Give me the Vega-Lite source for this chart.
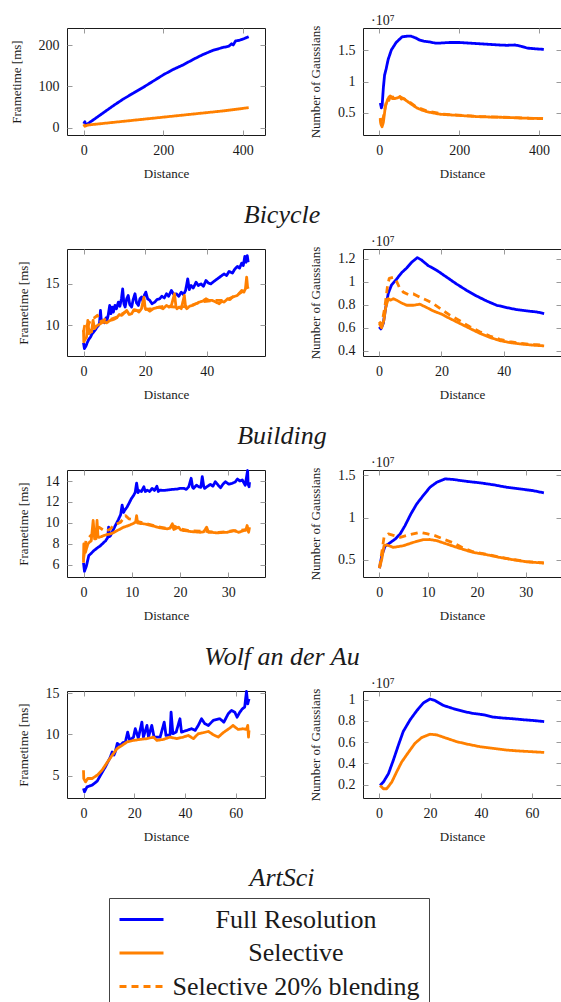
{
"$schema": "https://vega.github.io/schema/vega-lite/v6.json",
"background": "white",
"padding": {"left": 9, "top": 13, "right": 0, "bottom": 0},
"columns": 2,
"spacing": {"row": 114, "column": 98},
"bounds": "flush",
"datasets": {
"p1l": [
{"s":"F","x":0,"y":10},{"s":"F","x":3,"y":15},{"s":"F","x":5,"y":6},{"s":"F","x":10,"y":10},{"s":"F","x":25,"y":20},{"s":"F","x":50,"y":37},{"s":"F","x":75,"y":54},{"s":"F","x":100,"y":70},{"s":"F","x":125,"y":84},{"s":"F","x":150,"y":98},{"s":"F","x":175,"y":113},{"s":"F","x":200,"y":128},{"s":"F","x":225,"y":141},{"s":"F","x":250,"y":152},{"s":"F","x":275,"y":165},{"s":"F","x":300,"y":177},{"s":"F","x":325,"y":187},{"s":"F","x":350,"y":194},{"s":"F","x":365,"y":197},{"s":"F","x":372,"y":203},{"s":"F","x":376,"y":200},{"s":"F","x":382,"y":210},{"s":"F","x":390,"y":211},{"s":"F","x":400,"y":214},{"s":"F","x":415,"y":220},
{"s":"S","x":0,"y":9},{"s":"S","x":3,"y":4},{"s":"S","x":10,"y":7},{"s":"S","x":50,"y":11},{"s":"S","x":100,"y":16},{"s":"S","x":150,"y":21},{"s":"S","x":200,"y":26},{"s":"S","x":250,"y":31},{"s":"S","x":300,"y":36},{"s":"S","x":350,"y":41},{"s":"S","x":400,"y":47},{"s":"S","x":415,"y":49}
],
"p1r": [
{"s":"F","x":2.5,"y":0.66},{"s":"F","x":5,"y":0.58},{"s":"F","x":7,"y":0.62},{"s":"F","x":10,"y":0.9},{"s":"F","x":13,"y":1.1},{"s":"F","x":17,"y":1.2},{"s":"F","x":22,"y":1.35},{"s":"F","x":30,"y":1.5},{"s":"F","x":42,"y":1.62},{"s":"F","x":57,"y":1.71},{"s":"F","x":70,"y":1.72},{"s":"F","x":79,"y":1.72},{"s":"F","x":92,"y":1.69},{"s":"F","x":100,"y":1.66},{"s":"F","x":111,"y":1.64},{"s":"F","x":125,"y":1.63},{"s":"F","x":140,"y":1.61},{"s":"F","x":150,"y":1.61},{"s":"F","x":175,"y":1.62},{"s":"F","x":200,"y":1.62},{"s":"F","x":225,"y":1.61},{"s":"F","x":251,"y":1.6},{"s":"F","x":275,"y":1.59},{"s":"F","x":301,"y":1.58},{"s":"F","x":320,"y":1.575},{"s":"F","x":340,"y":1.58},{"s":"F","x":355,"y":1.56},{"s":"F","x":371,"y":1.53},{"s":"F","x":390,"y":1.52},{"s":"F","x":412,"y":1.51},
{"s":"S","x":2,"y":0.4},{"s":"S","x":4,"y":0.32},{"s":"S","x":6.7,"y":0.28},{"s":"S","x":10,"y":0.35},{"s":"S","x":13,"y":0.5},{"s":"S","x":15,"y":0.6},{"s":"S","x":18,"y":0.66},{"s":"S","x":21,"y":0.72},{"s":"S","x":24,"y":0.7},{"s":"S","x":27.5,"y":0.77},{"s":"S","x":32,"y":0.73},{"s":"S","x":40,"y":0.73},{"s":"S","x":46,"y":0.74},{"s":"S","x":52,"y":0.76},{"s":"S","x":55,"y":0.72},{"s":"S","x":60,"y":0.73},{"s":"S","x":69,"y":0.69},{"s":"S","x":80,"y":0.64},{"s":"S","x":94,"y":0.58},{"s":"S","x":105,"y":0.55},{"s":"S","x":119,"y":0.52},{"s":"S","x":135,"y":0.5},{"s":"S","x":152,"y":0.48},{"s":"S","x":175,"y":0.47},{"s":"S","x":202,"y":0.46},{"s":"S","x":225,"y":0.45},{"s":"S","x":252,"y":0.44},{"s":"S","x":280,"y":0.435},{"s":"S","x":319,"y":0.43},{"s":"S","x":350,"y":0.42},{"s":"S","x":380,"y":0.415},{"s":"S","x":410,"y":0.41},
{"s":"B","x":2,"y":0.42},{"s":"B","x":6,"y":0.3},{"s":"B","x":12,"y":0.5},{"s":"B","x":18,"y":0.7},{"s":"B","x":25,"y":0.76},{"s":"B","x":35,"y":0.75},{"s":"B","x":50,"y":0.76},{"s":"B","x":70,"y":0.7},{"s":"B","x":94,"y":0.59},{"s":"B","x":120,"y":0.53},{"s":"B","x":160,"y":0.48},{"s":"B","x":250,"y":0.445},{"s":"B","x":410,"y":0.41}
],
"p2l": [
{"s":"F","x":0,"y":7.9},{"s":"F","x":0.3,"y":7.2},{"s":"F","x":0.8,"y":7.5},{"s":"F","x":1.2,"y":7.9},{"s":"F","x":1.7,"y":8.3},{"s":"F","x":2.3,"y":8.6},{"s":"F","x":2.8,"y":9.0},{"s":"F","x":3.3,"y":9.2},{"s":"F","x":3.9,"y":9.5},{"s":"F","x":4.4,"y":9.8},{"s":"F","x":4.9,"y":10.0},{"s":"F","x":5.2,"y":10.3},{"s":"F","x":5.5,"y":11.8},{"s":"F","x":5.8,"y":10.4},{"s":"F","x":6.3,"y":10.6},{"s":"F","x":6.8,"y":10.3},{"s":"F","x":7.3,"y":10.9},{"s":"F","x":7.6,"y":10.6},{"s":"F","x":8.0,"y":11.2},{"s":"F","x":8.5,"y":12.4},{"s":"F","x":8.9,"y":11.4},{"s":"F","x":9.3,"y":12.2},{"s":"F","x":9.7,"y":11.6},{"s":"F","x":10.2,"y":12.4},{"s":"F","x":10.7,"y":12.0},{"s":"F","x":11.3,"y":12.8},{"s":"F","x":11.8,"y":12.3},{"s":"F","x":12.3,"y":13.2},{"s":"F","x":12.7,"y":14.4},{"s":"F","x":13.1,"y":12.6},{"s":"F","x":13.5,"y":12.2},{"s":"F","x":14.0,"y":13.2},{"s":"F","x":14.5,"y":13.6},{"s":"F","x":15.0,"y":12.5},{"s":"F","x":15.6,"y":12.2},{"s":"F","x":16.1,"y":13.1},{"s":"F","x":16.7,"y":13.8},{"s":"F","x":17.2,"y":12.7},{"s":"F","x":17.8,"y":12.4},{"s":"F","x":18.3,"y":13.2},{"s":"F","x":18.8,"y":13.4},{"s":"F","x":19.3,"y":12.9},{"s":"F","x":19.7,"y":13.6},{"s":"F","x":20.2,"y":14.0},{"s":"F","x":20.8,"y":13.2},{"s":"F","x":21.5,"y":13.0},{"s":"F","x":22.2,"y":12.6},{"s":"F","x":23.1,"y":12.8},{"s":"F","x":23.8,"y":13.1},{"s":"F","x":24.7,"y":13.2},{"s":"F","x":25.4,"y":13.5},{"s":"F","x":26.2,"y":13.3},{"s":"F","x":26.9,"y":13.8},{"s":"F","x":27.6,"y":13.5},{"s":"F","x":28.5,"y":14.2},{"s":"F","x":29.3,"y":13.7},{"s":"F","x":30.1,"y":13.8},{"s":"F","x":30.9,"y":13.5},{"s":"F","x":31.7,"y":14.0},{"s":"F","x":32.4,"y":13.7},{"s":"F","x":33.1,"y":14.2},{"s":"F","x":33.8,"y":15.6},{"s":"F","x":34.3,"y":14.3},{"s":"F","x":34.9,"y":14.8},{"s":"F","x":35.6,"y":14.5},{"s":"F","x":36.5,"y":15.2},{"s":"F","x":37.2,"y":14.8},{"s":"F","x":38.1,"y":15.0},{"s":"F","x":38.9,"y":14.7},{"s":"F","x":39.7,"y":15.4},{"s":"F","x":40.5,"y":15.1},{"s":"F","x":41.3,"y":15.0},{"s":"F","x":42.3,"y":15.3},{"s":"F","x":43.4,"y":15.6},{"s":"F","x":44.5,"y":15.9},{"s":"F","x":45.6,"y":16.2},{"s":"F","x":46.4,"y":16.0},{"s":"F","x":47.2,"y":16.5},{"s":"F","x":48.3,"y":16.3},{"s":"F","x":49.1,"y":16.8},{"s":"F","x":49.9,"y":17.1},{"s":"F","x":50.6,"y":16.9},{"s":"F","x":51.3,"y":17.5},{"s":"F","x":51.8,"y":17.2},{"s":"F","x":52.3,"y":18.3},{"s":"F","x":52.7,"y":17.6},{"s":"F","x":53.1,"y":18.4},{"s":"F","x":53.4,"y":17.6},
{"s":"S","x":0,"y":9.4},{"s":"S","x":0.1,"y":8.0},{"s":"S","x":0.5,"y":8.3},{"s":"S","x":1.0,"y":8.6},{"s":"S","x":1.4,"y":10.6},{"s":"S","x":1.8,"y":9.0},{"s":"S","x":2.2,"y":9.4},{"s":"S","x":2.6,"y":9.2},{"s":"S","x":3.1,"y":10.6},{"s":"S","x":3.6,"y":9.6},{"s":"S","x":4.2,"y":9.9},{"s":"S","x":4.6,"y":10.0},{"s":"S","x":5.5,"y":10.2},{"s":"S","x":6.5,"y":10.4},{"s":"S","x":7.5,"y":10.3},{"s":"S","x":8.7,"y":10.6},{"s":"S","x":9.7,"y":10.7},{"s":"S","x":10.8,"y":10.9},{"s":"S","x":11.6,"y":11.3},{"s":"S","x":12.4,"y":11.2},{"s":"S","x":13.2,"y":11.5},{"s":"S","x":14.0,"y":11.8},{"s":"S","x":14.8,"y":11.3},{"s":"S","x":15.6,"y":11.4},{"s":"S","x":16.4,"y":11.9},{"s":"S","x":17.2,"y":11.8},{"s":"S","x":18.0,"y":11.6},{"s":"S","x":18.8,"y":12.0},{"s":"S","x":19.6,"y":13.4},{"s":"S","x":20.0,"y":12.0},{"s":"S","x":20.4,"y":12.0},{"s":"S","x":21.5,"y":11.7},{"s":"S","x":22.6,"y":12.0},{"s":"S","x":23.6,"y":12.1},{"s":"S","x":24.7,"y":12.2},{"s":"S","x":25.8,"y":12.0},{"s":"S","x":26.9,"y":12.4},{"s":"S","x":27.7,"y":12.2},{"s":"S","x":28.5,"y":12.4},{"s":"S","x":29.5,"y":13.8},{"s":"S","x":30.0,"y":12.2},{"s":"S","x":30.3,"y":12.0},{"s":"S","x":31.0,"y":12.2},{"s":"S","x":31.7,"y":12.0},{"s":"S","x":32.7,"y":13.6},{"s":"S","x":33.1,"y":12.2},{"s":"S","x":33.5,"y":12.0},{"s":"S","x":34.4,"y":12.3},{"s":"S","x":35.4,"y":12.4},{"s":"S","x":36.5,"y":12.6},{"s":"S","x":37.6,"y":12.8},{"s":"S","x":38.6,"y":12.9},{"s":"S","x":39.7,"y":13.2},{"s":"S","x":40.7,"y":13.0},{"s":"S","x":41.8,"y":13.0},{"s":"S","x":42.9,"y":12.8},{"s":"S","x":44.0,"y":12.6},{"s":"S","x":44.8,"y":12.9},{"s":"S","x":45.6,"y":12.8},{"s":"S","x":46.7,"y":13.2},{"s":"S","x":47.5,"y":13.1},{"s":"S","x":48.3,"y":13.4},{"s":"S","x":49.1,"y":13.5},{"s":"S","x":49.9,"y":13.6},{"s":"S","x":50.6,"y":13.9},{"s":"S","x":51.3,"y":14.2},{"s":"S","x":52.0,"y":14.0},{"s":"S","x":52.5,"y":14.4},{"s":"S","x":52.9,"y":15.8},{"s":"S","x":53.2,"y":14.6},{"s":"S","x":53.4,"y":14.4},
{"s":"B","x":0,"y":9.2},{"s":"B","x":0.6,"y":10.4},{"s":"B","x":1.5,"y":10.0},{"s":"B","x":2.5,"y":10.8},{"s":"B","x":3.5,"y":10.9},{"s":"B","x":4.5,"y":11.2},{"s":"B","x":5.2,"y":10.4},{"s":"B","x":6.4,"y":10.6},{"s":"B","x":7.5,"y":10.8},{"s":"B","x":8.7,"y":10.7},{"s":"B","x":10.8,"y":11.0},{"s":"B","x":14,"y":11.7},{"s":"B","x":18,"y":11.8},{"s":"B","x":22,"y":12.0},{"s":"B","x":26,"y":12.3},{"s":"B","x":30,"y":12.2},{"s":"B","x":34,"y":12.3},{"s":"B","x":38,"y":12.8},{"s":"B","x":42,"y":13.0},{"s":"B","x":46,"y":13.0},{"s":"B","x":50,"y":13.7},{"s":"B","x":53.4,"y":14.5}
],
"p2r": [
{"s":"F","x":0.1,"y":0.609},{"s":"F","x":0.64,"y":0.59},{"s":"F","x":1.4,"y":0.64},{"s":"F","x":2.2,"y":0.78},{"s":"F","x":3.0,"y":0.9},{"s":"F","x":4.0,"y":0.97},{"s":"F","x":5.7,"y":1.025},{"s":"F","x":7.3,"y":1.08},{"s":"F","x":8.9,"y":1.12},{"s":"F","x":10.5,"y":1.17},{"s":"F","x":12.3,"y":1.21},{"s":"F","x":13.6,"y":1.19},{"s":"F","x":15.8,"y":1.14},{"s":"F","x":18.5,"y":1.1},{"s":"F","x":21.7,"y":1.04},{"s":"F","x":24.9,"y":0.98},{"s":"F","x":28.1,"y":0.925},{"s":"F","x":31.3,"y":0.876},{"s":"F","x":34.5,"y":0.833},{"s":"F","x":37.7,"y":0.796},{"s":"F","x":40.9,"y":0.776},{"s":"F","x":44.1,"y":0.758},{"s":"F","x":47.3,"y":0.747},{"s":"F","x":50.5,"y":0.738},{"s":"F","x":52.9,"y":0.724},
{"s":"S","x":0.1,"y":0.64},{"s":"S","x":0.86,"y":0.6},{"s":"S","x":1.6,"y":0.667},{"s":"S","x":2.2,"y":0.78},{"s":"S","x":3.0,"y":0.853},{"s":"S","x":3.7,"y":0.84},{"s":"S","x":4.6,"y":0.853},{"s":"S","x":5.7,"y":0.84},{"s":"S","x":7.3,"y":0.815},{"s":"S","x":8.9,"y":0.796},{"s":"S","x":11.0,"y":0.796},{"s":"S","x":13.1,"y":0.805},{"s":"S","x":15.3,"y":0.776},{"s":"S","x":17.4,"y":0.747},{"s":"S","x":20.1,"y":0.718},{"s":"S","x":22.7,"y":0.681},{"s":"S","x":25.9,"y":0.638},{"s":"S","x":29.1,"y":0.595},{"s":"S","x":32.3,"y":0.552},{"s":"S","x":35.5,"y":0.517},{"s":"S","x":38.7,"y":0.489},{"s":"S","x":41.9,"y":0.472},{"s":"S","x":45.1,"y":0.46},{"s":"S","x":49.4,"y":0.449},{"s":"S","x":52.9,"y":0.443},
{"s":"B","x":0.1,"y":0.654},{"s":"B","x":0.86,"y":0.626},{"s":"B","x":1.9,"y":0.78},{"s":"B","x":2.7,"y":0.953},{"s":"B","x":3.3,"y":1.03},{"s":"B","x":4.6,"y":1.04},{"s":"B","x":5.4,"y":1.02},{"s":"B","x":6.5,"y":0.953},{"s":"B","x":7.8,"y":0.91},{"s":"B","x":9.4,"y":0.89},{"s":"B","x":11.0,"y":0.895},{"s":"B","x":13.1,"y":0.867},{"s":"B","x":15.3,"y":0.84},{"s":"B","x":17.4,"y":0.81},{"s":"B","x":20.1,"y":0.758},{"s":"B","x":22.7,"y":0.71},{"s":"B","x":25.9,"y":0.661},{"s":"B","x":29.1,"y":0.609},{"s":"B","x":32.3,"y":0.566},{"s":"B","x":35.5,"y":0.529},{"s":"B","x":38.7,"y":0.5},{"s":"B","x":41.9,"y":0.48},{"s":"B","x":45.1,"y":0.466},{"s":"B","x":49.4,"y":0.455},{"s":"B","x":52.9,"y":0.449}
],
"p3l": [
{"s":"F","x":0,"y":6.2},{"s":"F","x":0.2,"y":5.4},{"s":"F","x":0.6,"y":5.9},{"s":"F","x":1.1,"y":6.9},{"s":"F","x":1.6,"y":7.1},{"s":"F","x":2.1,"y":7.35},{"s":"F","x":2.8,"y":7.6},{"s":"F","x":3.5,"y":7.83},{"s":"F","x":4.1,"y":8.1},{"s":"F","x":4.6,"y":8.31},{"s":"F","x":5.0,"y":8.6},{"s":"F","x":5.2,"y":9.6},{"s":"F","x":5.4,"y":8.7},{"s":"F","x":5.6,"y":8.8},{"s":"F","x":6.1,"y":9.3},{"s":"F","x":6.6,"y":9.76},{"s":"F","x":7.2,"y":10.3},{"s":"F","x":7.7,"y":10.8},{"s":"F","x":8.0,"y":11.7},{"s":"F","x":8.3,"y":11.0},{"s":"F","x":8.5,"y":11.2},{"s":"F","x":9.0,"y":11.5},{"s":"F","x":9.4,"y":11.85},{"s":"F","x":9.9,"y":12.3},{"s":"F","x":10.4,"y":12.65},{"s":"F","x":10.7,"y":12.9},{"s":"F","x":11.0,"y":13.8},{"s":"F","x":11.3,"y":12.9},{"s":"F","x":11.5,"y":13.1},{"s":"F","x":12.0,"y":13.0},{"s":"F","x":12.5,"y":13.45},{"s":"F","x":12.8,"y":13.0},{"s":"F","x":13.2,"y":13.13},{"s":"F","x":13.7,"y":13.0},{"s":"F","x":14.2,"y":13.3},{"s":"F","x":14.7,"y":13.1},{"s":"F","x":15.2,"y":13.5},{"s":"F","x":15.5,"y":13.0},{"s":"F","x":15.8,"y":13.13},{"s":"F","x":16.5,"y":13.1},{"s":"F","x":17.3,"y":13.13},{"s":"F","x":18.3,"y":13.2},{"s":"F","x":19.4,"y":13.23},{"s":"F","x":20.1,"y":13.3},{"s":"F","x":20.8,"y":13.3},{"s":"F","x":21.3,"y":13.2},{"s":"F","x":21.8,"y":13.45},{"s":"F","x":22.3,"y":14.26},{"s":"F","x":22.6,"y":13.4},{"s":"F","x":22.8,"y":13.3},{"s":"F","x":23.4,"y":13.6},{"s":"F","x":23.9,"y":13.45},{"s":"F","x":24.3,"y":13.4},{"s":"F","x":24.6,"y":14.42},{"s":"F","x":24.9,"y":13.5},{"s":"F","x":25.1,"y":13.3},{"s":"F","x":25.7,"y":13.5},{"s":"F","x":26.3,"y":13.68},{"s":"F","x":26.8,"y":13.5},{"s":"F","x":27.3,"y":13.93},{"s":"F","x":27.9,"y":13.6},{"s":"F","x":28.4,"y":13.36},{"s":"F","x":28.9,"y":13.7},{"s":"F","x":29.4,"y":13.93},{"s":"F","x":30.1,"y":13.7},{"s":"F","x":30.8,"y":13.78},{"s":"F","x":31.4,"y":13.9},{"s":"F","x":31.9,"y":14.19},{"s":"F","x":32.4,"y":14.0},{"s":"F","x":32.9,"y":14.1},{"s":"F","x":33.5,"y":13.6},{"s":"F","x":34.0,"y":15.0},{"s":"F","x":34.1,"y":13.7},{"s":"F","x":34.3,"y":13.45},{"s":"F","x":34.4,"y":13.9},
{"s":"S","x":0,"y":6.2},{"s":"S","x":0.06,"y":8.0},{"s":"S","x":0.4,"y":7.2},{"s":"S","x":0.9,"y":8.0},{"s":"S","x":1.3,"y":8.2},{"s":"S","x":1.6,"y":8.3},{"s":"S","x":2.0,"y":10.24},{"s":"S","x":2.3,"y":8.48},{"s":"S","x":2.6,"y":8.5},{"s":"S","x":2.8,"y":10.24},{"s":"S","x":3.0,"y":8.7},{"s":"S","x":3.2,"y":8.63},{"s":"S","x":3.7,"y":8.7},{"s":"S","x":4.2,"y":8.8},{"s":"S","x":4.9,"y":8.9},{"s":"S","x":5.6,"y":8.96},{"s":"S","x":6.3,"y":9.1},{"s":"S","x":7.0,"y":9.28},{"s":"S","x":7.7,"y":9.45},{"s":"S","x":8.3,"y":9.6},{"s":"S","x":9.0,"y":9.7},{"s":"S","x":9.7,"y":9.83},{"s":"S","x":10.3,"y":9.95},{"s":"S","x":10.8,"y":10.08},{"s":"S","x":11.0,"y":10.7},{"s":"S","x":11.2,"y":10.0},{"s":"S","x":11.8,"y":9.95},{"s":"S","x":12.5,"y":9.92},{"s":"S","x":13.2,"y":9.85},{"s":"S","x":13.9,"y":9.76},{"s":"S","x":14.6,"y":9.7},{"s":"S","x":15.3,"y":9.6},{"s":"S","x":16.3,"y":9.5},{"s":"S","x":17.3,"y":9.44},{"s":"S","x":17.9,"y":9.5},{"s":"S","x":18.4,"y":9.92},{"s":"S","x":18.7,"y":9.38},{"s":"S","x":19.2,"y":9.5},{"s":"S","x":19.7,"y":9.6},{"s":"S","x":20.1,"y":9.35},{"s":"S","x":20.6,"y":9.28},{"s":"S","x":21.4,"y":9.25},{"s":"S","x":22.2,"y":9.18},{"s":"S","x":23.2,"y":9.15},{"s":"S","x":24.2,"y":9.11},{"s":"S","x":24.9,"y":9.15},{"s":"S","x":25.5,"y":9.6},{"s":"S","x":25.9,"y":9.11},{"s":"S","x":26.8,"y":9.1},{"s":"S","x":27.7,"y":9.05},{"s":"S","x":28.8,"y":9.1},{"s":"S","x":29.8,"y":9.11},{"s":"S","x":30.5,"y":9.2},{"s":"S","x":31.1,"y":9.28},{"s":"S","x":31.6,"y":9.2},{"s":"S","x":32.2,"y":9.11},{"s":"S","x":32.7,"y":9.2},{"s":"S","x":33.2,"y":9.28},{"s":"S","x":33.6,"y":9.3},{"s":"S","x":33.9,"y":9.76},{"s":"S","x":34.2,"y":9.11},{"s":"S","x":34.4,"y":9.6},
{"s":"B","x":0,"y":6.5},{"s":"B","x":0.5,"y":8.3},{"s":"B","x":1.5,"y":8.8},{"s":"B","x":2.4,"y":9.0},{"s":"B","x":3.2,"y":9.6},{"s":"B","x":4.5,"y":9.2},{"s":"B","x":5.5,"y":9.4},{"s":"B","x":6.2,"y":9.76},{"s":"B","x":7.7,"y":10.08},{"s":"B","x":8.7,"y":10.7},{"s":"B","x":9.4,"y":10.4},{"s":"B","x":10.5,"y":10.3},{"s":"B","x":11.5,"y":10.1},{"s":"B","x":13,"y":9.95},{"s":"B","x":15,"y":9.7},{"s":"B","x":17,"y":9.5},{"s":"B","x":18.8,"y":9.7},{"s":"B","x":20,"y":9.45},{"s":"B","x":22,"y":9.25},{"s":"B","x":25,"y":9.2},{"s":"B","x":28,"y":9.1},{"s":"B","x":31,"y":9.25},{"s":"B","x":34.4,"y":9.4}
],
"p3r": [
{"s":"F","x":0.07,"y":0.4},{"s":"F","x":0.55,"y":0.55},{"s":"F","x":1.2,"y":0.66},{"s":"F","x":2.2,"y":0.7},{"s":"F","x":3.3,"y":0.746},{"s":"F","x":4.3,"y":0.806},{"s":"F","x":5.3,"y":0.905},{"s":"F","x":6.5,"y":1.044},{"s":"F","x":7.7,"y":1.163},{"s":"F","x":9.0,"y":1.26},{"s":"F","x":10.4,"y":1.36},{"s":"F","x":11.8,"y":1.42},{"s":"F","x":13.5,"y":1.46},{"s":"F","x":15.2,"y":1.452},{"s":"F","x":17.9,"y":1.43},{"s":"F","x":20.6,"y":1.413},{"s":"F","x":23.3,"y":1.39},{"s":"F","x":26.1,"y":1.36},{"s":"F","x":28.8,"y":1.34},{"s":"F","x":31.5,"y":1.32},{"s":"F","x":33.7,"y":1.294},
{"s":"S","x":0.07,"y":0.4},{"s":"S","x":0.55,"y":0.51},{"s":"S","x":1.0,"y":0.667},{"s":"S","x":1.6,"y":0.675},{"s":"S","x":2.9,"y":0.646},{"s":"S","x":5.0,"y":0.667},{"s":"S","x":7.0,"y":0.706},{"s":"S","x":9.0,"y":0.738},{"s":"S","x":10.4,"y":0.74},{"s":"S","x":11.8,"y":0.726},{"s":"S","x":13.8,"y":0.687},{"s":"S","x":16.5,"y":0.635},{"s":"S","x":19.2,"y":0.587},{"s":"S","x":22.0,"y":0.56},{"s":"S","x":24.7,"y":0.527},{"s":"S","x":27.4,"y":0.5},{"s":"S","x":30.1,"y":0.476},{"s":"S","x":33.7,"y":0.46},
{"s":"B","x":0.07,"y":0.4},{"s":"B","x":1.0,"y":0.766},{"s":"B","x":1.9,"y":0.806},{"s":"B","x":2.9,"y":0.79},{"s":"B","x":4.3,"y":0.766},{"s":"B","x":6.3,"y":0.798},{"s":"B","x":8.4,"y":0.825},{"s":"B","x":9.7,"y":0.81},{"s":"B","x":11.4,"y":0.786},{"s":"B","x":13.1,"y":0.746},{"s":"B","x":15.2,"y":0.7},{"s":"B","x":17.0,"y":0.645},{"s":"B","x":19.2,"y":0.595},{"s":"B","x":22.0,"y":0.565},{"s":"B","x":24.7,"y":0.53},{"s":"B","x":27.4,"y":0.503},{"s":"B","x":30.1,"y":0.478},{"s":"B","x":33.7,"y":0.462}
],
"p4l": [
{"s":"F","x":0,"y":3.46},{"s":"F","x":0.4,"y":3.05},{"s":"F","x":1.4,"y":3.65},{"s":"F","x":3.4,"y":3.86},{"s":"F","x":5.4,"y":4.34},{"s":"F","x":6.7,"y":5.06},{"s":"F","x":8.6,"y":6.06},{"s":"F","x":10.6,"y":7.27},{"s":"F","x":11.3,"y":7.87},{"s":"F","x":12.0,"y":7.5},{"s":"F","x":12.5,"y":7.87},{"s":"F","x":13.3,"y":8.9},{"s":"F","x":14.5,"y":8.67},{"s":"F","x":15.5,"y":9.0},{"s":"F","x":16.5,"y":9.07},{"s":"F","x":17.4,"y":10.28},{"s":"F","x":18.2,"y":9.27},{"s":"F","x":19.7,"y":9.67},{"s":"F","x":20.4,"y":10.69},{"s":"F","x":21.6,"y":9.55},{"s":"F","x":23.0,"y":11.48},{"s":"F","x":23.6,"y":9.67},{"s":"F","x":25.0,"y":11.08},{"s":"F","x":25.6,"y":9.67},{"s":"F","x":26.9,"y":11.08},{"s":"F","x":27.8,"y":9.67},{"s":"F","x":30.2,"y":9.67},{"s":"F","x":31.8,"y":11.48},{"s":"F","x":32.5,"y":9.87},{"s":"F","x":34.1,"y":9.96},{"s":"F","x":34.5,"y":12.69},{"s":"F","x":35.2,"y":10.08},{"s":"F","x":36.5,"y":10.28},{"s":"F","x":38.0,"y":11.89},{"s":"F","x":38.6,"y":10.28},{"s":"F","x":40.7,"y":10.48},{"s":"F","x":42.6,"y":10.69},{"s":"F","x":44.0,"y":10.48},{"s":"F","x":45.2,"y":11.08},{"s":"F","x":46.5,"y":11.89},{"s":"F","x":47.8,"y":11.29},{"s":"F","x":49.2,"y":11.08},{"s":"F","x":51.1,"y":11.69},{"s":"F","x":53.7,"y":11.89},{"s":"F","x":55.3,"y":11.48},{"s":"F","x":57.0,"y":12.49},{"s":"F","x":58.3,"y":12.9},{"s":"F","x":59.6,"y":12.69},{"s":"F","x":60.5,"y":12.08},{"s":"F","x":61.6,"y":12.69},{"s":"F","x":62.6,"y":13.1},{"s":"F","x":63.5,"y":13.3},{"s":"F","x":64.2,"y":15.2},{"s":"F","x":64.7,"y":13.7},{"s":"F","x":65.2,"y":14.3},
{"s":"S","x":0,"y":5.66},{"s":"S","x":0.1,"y":4.66},{"s":"S","x":0.8,"y":4.25},{"s":"S","x":1.7,"y":4.66},{"s":"S","x":3.4,"y":4.66},{"s":"S","x":5.4,"y":5.06},{"s":"S","x":7.3,"y":5.66},{"s":"S","x":9.3,"y":6.59},{"s":"S","x":11.3,"y":7.47},{"s":"S","x":13.2,"y":8.27},{"s":"S","x":15.2,"y":8.67},{"s":"S","x":17.1,"y":9.07},{"s":"S","x":19.7,"y":9.27},{"s":"S","x":22.4,"y":9.4},{"s":"S","x":25.0,"y":9.48},{"s":"S","x":27.6,"y":9.67},{"s":"S","x":28.9,"y":9.27},{"s":"S","x":31.5,"y":9.4},{"s":"S","x":34.1,"y":9.67},{"s":"S","x":36.7,"y":9.48},{"s":"S","x":39.3,"y":9.67},{"s":"S","x":41.3,"y":9.87},{"s":"S","x":43.3,"y":9.48},{"s":"S","x":45.2,"y":10.08},{"s":"S","x":47.2,"y":10.2},{"s":"S","x":49.2,"y":10.36},{"s":"S","x":51.1,"y":9.96},{"s":"S","x":53.1,"y":9.67},{"s":"S","x":55.0,"y":10.2},{"s":"S","x":57.6,"y":10.76},{"s":"S","x":58.9,"y":11.08},{"s":"S","x":60.9,"y":10.6},{"s":"S","x":62.8,"y":10.68},{"s":"S","x":64.2,"y":10.6},{"s":"S","x":64.7,"y":11.08},{"s":"S","x":65.0,"y":9.67},{"s":"S","x":65.2,"y":10.48}
],
"p4r": [
{"s":"F","x":0.4,"y":0.193},{"s":"F","x":1.7,"y":0.225},{"s":"F","x":3.7,"y":0.304},{"s":"F","x":5.6,"y":0.43},{"s":"F","x":7.6,"y":0.572},{"s":"F","x":9.5,"y":0.7},{"s":"F","x":12.2,"y":0.81},{"s":"F","x":14.8,"y":0.895},{"s":"F","x":17.4,"y":0.968},{"s":"F","x":20.0,"y":1.005},{"s":"F","x":22.0,"y":0.99},{"s":"F","x":25.2,"y":0.945},{"s":"F","x":29.2,"y":0.914},{"s":"F","x":33.1,"y":0.888},{"s":"F","x":37.0,"y":0.869},{"s":"F","x":40.9,"y":0.857},{"s":"F","x":44.8,"y":0.835},{"s":"F","x":48.7,"y":0.826},{"s":"F","x":52.7,"y":0.819},{"s":"F","x":56.6,"y":0.81},{"s":"F","x":60.5,"y":0.803},{"s":"F","x":64.8,"y":0.793},
{"s":"S","x":0.4,"y":0.193},{"s":"S","x":1.7,"y":0.162},{"s":"S","x":3.0,"y":0.162},{"s":"S","x":5.0,"y":0.225},{"s":"S","x":6.9,"y":0.32},{"s":"S","x":8.9,"y":0.414},{"s":"S","x":11.5,"y":0.503},{"s":"S","x":14.1,"y":0.589},{"s":"S","x":16.7,"y":0.642},{"s":"S","x":20.0,"y":0.674},{"s":"S","x":22.6,"y":0.668},{"s":"S","x":26.5,"y":0.636},{"s":"S","x":30.5,"y":0.604},{"s":"S","x":34.4,"y":0.582},{"s":"S","x":39.6,"y":0.557},{"s":"S","x":44.8,"y":0.541},{"s":"S","x":50.1,"y":0.525},{"s":"S","x":55.3,"y":0.516},{"s":"S","x":60.5,"y":0.509},{"s":"S","x":64.8,"y":0.503}
]
},
"concat": [
{"width":198,"height":107,"data":{"name":"p1l"},"mark":"line",
 "title":{"text":"Bicycle","orient":"bottom","anchor":"middle","dx":116,"offset":22,"fontSize":26,"fontStyle":"italic"},
 "encoding":{
  "x":{"field":"x","type":"quantitative","scale":{"domain":[-42,456],"nice":false,"zero":false},"axis":{"title":"Distance","values":[0,200,400],"format":"~r"}},
  "y":{"field":"y","type":"quantitative","scale":{"domain":[-17,241],"nice":false,"zero":false},"axis":{"title":"Frametime [ms]","values":[0,100,200],"format":"~r"}},
  "color":{"field":"s","type":"nominal","scale":{"domain":["F","S","B"],"range":["#0000ff","#ff8000","#ff8000"]},"legend":{"orient":"none","legendX":42,"legendY":870,"title":null,"labelExpr":"datum.value == 'F' ? 'Full Resolution' : datum.value == 'S' ? 'Selective' : 'Selective 20% blending'"}},
  "strokeDash":{"field":"s","type":"nominal","scale":{"domain":["F","S","B"],"range":[[1,0],[1,0],[7,5]]},"legend":{"orient":"none","legendX":42,"legendY":870,"title":null,"labelExpr":"datum.value == 'F' ? 'Full Resolution' : datum.value == 'S' ? 'Selective' : 'Selective 20% blending'"}}
 }},
{"width":198,"height":107,"data":{"name":"p1r"},"mark":"line",
 "title":{"text":"·10⁷","orient":"top","anchor":"start","frame":"group","dx":8,"dy":18,"offset":4,"fontSize":14,"fontStyle":"normal","baseline":"alphabetic"},
 "encoding":{
  "x":{"field":"x","type":"quantitative","scale":{"domain":[-41,455],"nice":false,"zero":false},"axis":{"title":"Distance","values":[0,200,400],"format":"~r"}},
  "y":{"field":"y","type":"quantitative","scale":{"domain":[0.15,1.85],"nice":false,"zero":false},"axis":{"title":"Number of Gaussians","values":[0.5,1,1.5],"format":"~r"}},
  "color":{"field":"s","type":"nominal","scale":{"domain":["F","S","B"],"range":["#0000ff","#ff8000","#ff8000"]}},
  "strokeDash":{"field":"s","type":"nominal","scale":{"domain":["F","S","B"],"range":[[1,0],[1,0],[7,5]]}}
 }},
{"width":198,"height":107,"data":{"name":"p2l"},"mark":"line",
 "title":{"text":"Building","orient":"bottom","anchor":"middle","dx":116,"offset":22,"fontSize":26,"fontStyle":"italic"},
 "encoding":{
  "x":{"field":"x","type":"quantitative","scale":{"domain":[-5.35,58.85],"nice":false,"zero":false},"axis":{"title":"Distance","values":[0,20,40],"format":"~r"}},
  "y":{"field":"y","type":"quantitative","scale":{"domain":[6.3,19.2],"nice":false,"zero":false},"axis":{"title":"Frametime [ms]","values":[10,15],"format":"~r"}},
  "color":{"field":"s","type":"nominal","scale":{"domain":["F","S","B"],"range":["#0000ff","#ff8000","#ff8000"]}},
  "strokeDash":{"field":"s","type":"nominal","scale":{"domain":["F","S","B"],"range":[[1,0],[1,0],[7,5]]}}
 }},
{"width":198,"height":107,"data":{"name":"p2r"},"mark":"line",
 "title":{"text":"·10⁷","orient":"top","anchor":"start","frame":"group","dx":8,"dy":18,"offset":4,"fontSize":14,"fontStyle":"normal","baseline":"alphabetic"},
 "encoding":{
  "x":{"field":"x","type":"quantitative","scale":{"domain":[-5.1,58.3],"nice":false,"zero":false},"axis":{"title":"Distance","values":[0,20,40],"format":"~r"}},
  "y":{"field":"y","type":"quantitative","scale":{"domain":[0.355,1.285],"nice":false,"zero":false},"axis":{"title":"Number of Gaussians","values":[0.4,0.6,0.8,1,1.2],"format":"~r"}},
  "color":{"field":"s","type":"nominal","scale":{"domain":["F","S","B"],"range":["#0000ff","#ff8000","#ff8000"]}},
  "strokeDash":{"field":"s","type":"nominal","scale":{"domain":["F","S","B"],"range":[[1,0],[1,0],[7,5]]}}
 }},
{"width":198,"height":107,"data":{"name":"p3l"},"mark":"line",
 "title":{"text":"Wolf an der Au","orient":"bottom","anchor":"middle","dx":116,"offset":22,"fontSize":26,"fontStyle":"italic"},
 "encoding":{
  "x":{"field":"x","type":"quantitative","scale":{"domain":[-3.42,37.6],"nice":false,"zero":false},"axis":{"title":"Distance","values":[0,10,20,30],"format":"~r"}},
  "y":{"field":"y","type":"quantitative","scale":{"domain":[4.85,15.05],"nice":false,"zero":false},"axis":{"title":"Frametime [ms]","values":[6,8,10,12,14],"format":"~r"}},
  "color":{"field":"s","type":"nominal","scale":{"domain":["F","S","B"],"range":["#0000ff","#ff8000","#ff8000"]}},
  "strokeDash":{"field":"s","type":"nominal","scale":{"domain":["F","S","B"],"range":[[1,0],[1,0],[5,4]]}},
  "strokeWidth":{"condition":{"test":"datum.s == 'B'","value":1.2},"value":2.8}
 }},
{"width":198,"height":107,"data":{"name":"p3r"},"mark":"line",
 "title":{"text":"·10⁷","orient":"top","anchor":"start","frame":"group","dx":8,"dy":18,"offset":4,"fontSize":14,"fontStyle":"normal","baseline":"alphabetic"},
 "encoding":{
  "x":{"field":"x","type":"quantitative","scale":{"domain":[-3.3,37.2],"nice":false,"zero":false},"axis":{"title":"Distance","values":[0,10,20,30],"format":"~r"}},
  "y":{"field":"y","type":"quantitative","scale":{"domain":[0.295,1.565],"nice":false,"zero":false},"axis":{"title":"Number of Gaussians","values":[0.5,1,1.5],"format":"~r"}},
  "color":{"field":"s","type":"nominal","scale":{"domain":["F","S","B"],"range":["#0000ff","#ff8000","#ff8000"]}},
  "strokeDash":{"field":"s","type":"nominal","scale":{"domain":["F","S","B"],"range":[[1,0],[1,0],[7,5]]}},
  "strokeWidth":{"condition":{"test":"datum.s == 'B'","value":1.2},"value":2.8}
 }},
{"width":198,"height":107,"data":{"name":"p4l"},"mark":"line",
 "title":{"text":"ArtSci","orient":"bottom","anchor":"middle","dx":116,"offset":22,"fontSize":26,"fontStyle":"italic"},
 "encoding":{
  "x":{"field":"x","type":"quantitative","scale":{"domain":[-6.5,71.5],"nice":false,"zero":false},"axis":{"title":"Distance","values":[0,20,40,60],"format":"~r"}},
  "y":{"field":"y","type":"quantitative","scale":{"domain":[2.3,15.25],"nice":false,"zero":false},"axis":{"title":"Frametime [ms]","values":[5,10,15],"format":"~r"}},
  "color":{"field":"s","type":"nominal","scale":{"domain":["F","S","B"],"range":["#0000ff","#ff8000","#ff8000"]}},
  "strokeDash":{"field":"s","type":"nominal","scale":{"domain":["F","S","B"],"range":[[1,0],[1,0],[7,5]]}}
 }},
{"width":198,"height":107,"data":{"name":"p4r"},"mark":"line",
 "title":{"text":"·10⁷","orient":"top","anchor":"start","frame":"group","dx":8,"dy":18,"offset":4,"fontSize":14,"fontStyle":"normal","baseline":"alphabetic"},
 "encoding":{
  "x":{"field":"x","type":"quantitative","scale":{"domain":[-6.3,71.4],"nice":false,"zero":false},"axis":{"title":"Distance","values":[0,20,40,60],"format":"~r"}},
  "y":{"field":"y","type":"quantitative","scale":{"domain":[0.075,1.08],"nice":false,"zero":false},"axis":{"title":"Number of Gaussians","values":[0.2,0.4,0.6,0.8,1],"format":"~r"}},
  "color":{"field":"s","type":"nominal","scale":{"domain":["F","S","B"],"range":["#0000ff","#ff8000","#ff8000"]}},
  "strokeDash":{"field":"s","type":"nominal","scale":{"domain":["F","S","B"],"range":[[1,0],[1,0],[7,5]]}}
 }}
],
"config": {
 "font": "Liberation Serif",
 "view": {"stroke": "#1a1a1a", "strokeWidth": 1},
 "title": {"font": "Liberation Serif", "fontWeight": "normal", "color": "#1a1a1a"},
 "axis": {"domain": false, "ticks": false, "grid": true, "gridColor": "#9a9a9a", "gridWidth": 1, "gridOpacity": 1, "labelFont": "Liberation Serif", "labelFontSize": 14, "labelColor": "#1a1a1a", "labelPadding": 8, "labelOverlap": false, "labelFlush": false, "titleFont": "Liberation Serif", "titleFontSize": 13, "titleFontWeight": "normal", "titleColor": "#1a1a1a"},
 "axisX": {"gridDash": [5, 97], "titlePadding": 10},
 "axisY": {"gridDash": [5, 188], "titlePadding": 15},
 "line": {"strokeWidth": 2.8, "strokeJoin": "round"},
 "legend": {"symbolType": "stroke", "symbolSize": 1936, "symbolStrokeWidth": 3, "labelFont": "Liberation Serif", "labelFontSize": 26, "labelColor": "#1a1a1a", "labelAlign": "center", "labelOffset": 131, "labelLimit": 400, "clipHeight": 25, "rowPadding": 6.5, "padding": 9, "strokeColor": "#444444", "fillColor": "white", "symbolOffset": 0}
}
}
